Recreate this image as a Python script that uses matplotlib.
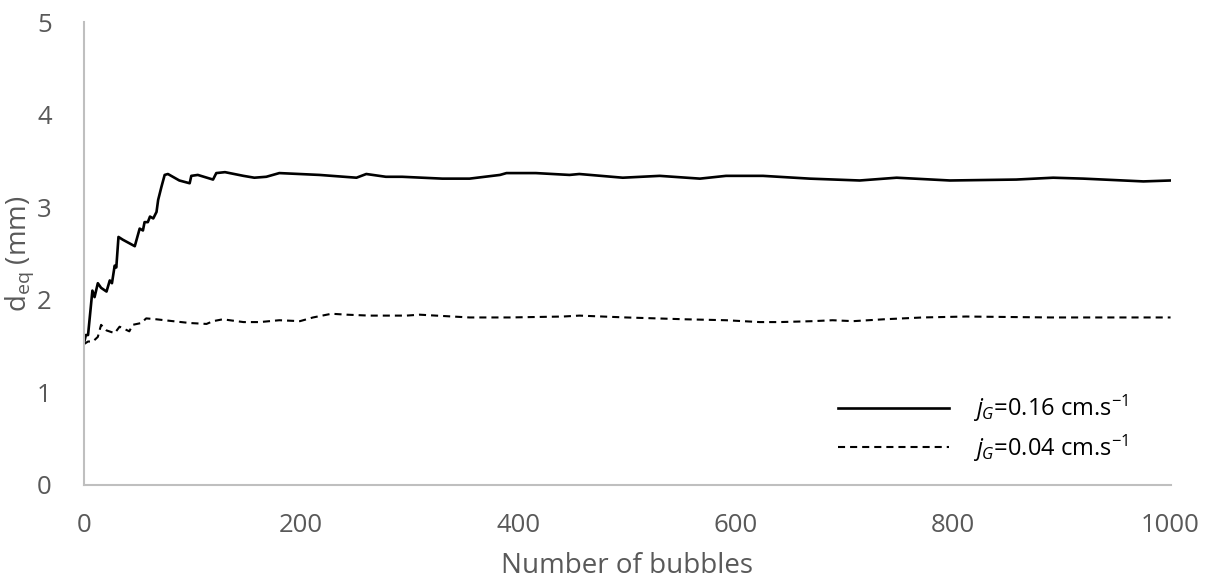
import matplotlib
matplotlib.use("Agg")
import matplotlib.pyplot as plt

# jG = 0.16 cm/s (solid)
bolhas_016 = [0, 2, 4, 8, 10, 13, 16, 21, 24, 26, 28.5, 30, 32, 36, 47, 51.5, 54.5, 56, 59, 61,
              64, 67, 68.5, 71.5, 74.5, 77.5, 88, 97.5, 99, 105, 119, 122, 130, 147, 157, 168,
              180, 217, 251, 260, 278, 293, 330, 355, 383, 389, 416, 447, 456, 496, 530, 567,
              591, 625, 668, 714, 748, 797, 858, 892, 920, 975, 1000]
deq_016 = [1.52, 1.62, 1.62, 2.10, 2.03, 2.18, 2.13, 2.09, 2.21, 2.18, 2.37, 2.35, 2.68, 2.65,
           2.58, 2.77, 2.75, 2.84, 2.84, 2.90, 2.88, 2.95, 3.08, 3.22, 3.35, 3.36, 3.29, 3.26,
           3.34, 3.35, 3.30, 3.37, 3.38, 3.34, 3.32, 3.33, 3.37, 3.35, 3.32, 3.36, 3.33, 3.33,
           3.31, 3.31, 3.35, 3.37, 3.37, 3.35, 3.36, 3.32, 3.34, 3.31, 3.34, 3.34, 3.31, 3.29,
           3.32, 3.29, 3.30, 3.32, 3.31, 3.28, 3.29]

# jG = 0.04 cm/s (dashed)
bolhas_004 = [0, 4, 8.5, 13, 16, 21, 28.5, 33, 42, 45, 53, 57.5, 67, 82, 97.5, 113, 119, 128,
              147, 162, 180, 199, 211, 228, 242, 263, 297, 309, 324, 355, 392, 441, 456, 499,
              554, 591, 622, 640, 671, 689, 708, 736, 772, 812, 889, 1000]
deq_004 = [1.52, 1.55, 1.55, 1.60, 1.73, 1.67, 1.64, 1.71, 1.66, 1.73, 1.75, 1.80, 1.79, 1.77,
           1.75, 1.74, 1.77, 1.79, 1.76, 1.76, 1.78, 1.77, 1.81, 1.85, 1.84, 1.83, 1.83, 1.84,
           1.83, 1.81, 1.81, 1.82, 1.83, 1.81, 1.79, 1.78, 1.76, 1.76, 1.77, 1.78, 1.77, 1.79,
           1.81, 1.82, 1.81, 1.81]

rotulos = [r'$j_G$=0.16 cm.s$^{-1}$', r'$j_G$=0.04 cm.s$^{-1}$']

plt.rcParams['font.family'] = ['Open Sans', 'DejaVu Sans']
plt.rcParams['mathtext.fontset'] = 'custom'
plt.rcParams['mathtext.rm'] = 'Open Sans'
plt.rcParams['mathtext.it'] = 'Open Sans:italic'

cinza = '#595959'

fig = plt.figure(figsize=(12.13, 5.85), dpi=100)
ax = fig.add_axes([0.069, 0.171, 0.896, 0.791])

ax.plot(bolhas_016, deq_016, color='black', lw=1.9, label=rotulos[0])
ax.plot(bolhas_004, deq_004, color='black', lw=1.5, dashes=(3.4, 2.4), label=rotulos[1])

ax.set_xlim(0, 1000)
ax.set_ylim(0, 5)
ax.set_xticks([0, 200, 400, 600, 800, 1000])
ax.set_yticks([0, 1, 2, 3, 4, 5])
ax.tick_params(length=0, labelsize=18.5, colors=cinza)
ax.tick_params(axis='x', pad=20)
ax.tick_params(axis='y', pad=23)

for lado in ['top', 'right']:
    ax.spines[lado].set_visible(False)
for lado in ['left', 'bottom']:
    ax.spines[lado].set_color('#bfbfbf')
    ax.spines[lado].set_linewidth(1.5)

ax.set_xlabel('Number of bubbles', fontsize=20, color=cinza, labelpad=10)
ax.set_ylabel(r'd$_{\mathrm{eq}}$ (mm)', fontsize=20, color=cinza, labelpad=1)

leg = ax.legend(loc='center left', bbox_to_anchor=(838 / 1213, 1 - 428.5 / 585),
                bbox_transform=fig.transFigure, frameon=False, fontsize=17,
                handlelength=4.7, handletextpad=1.0, labelspacing=0.35,
                borderpad=0, borderaxespad=0)
for t in leg.get_texts():
    t.set_color('black')

fig.savefig('out.png', dpi=100)
